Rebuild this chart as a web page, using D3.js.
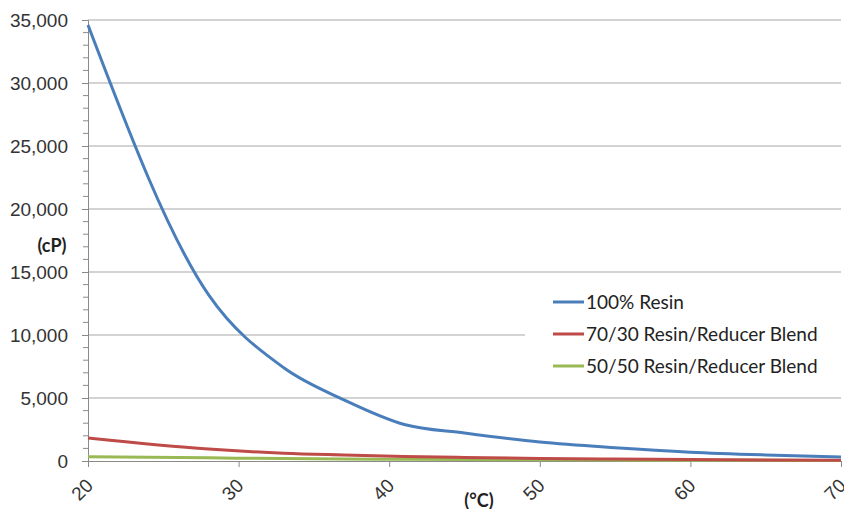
<!DOCTYPE html>
<html>
<head>
<meta charset="utf-8">
<script src="https://cdn.jsdelivr.net/npm/d3@7"></script>
<style>
  body { margin: 0; background: #fff; }
  svg { display: block; font-family: Lato, "Open Sans", sans-serif; }
</style>
</head>
<body>
<svg width="844" height="509"></svg>
<script>
// temperature (°C)
const temps = [20, 28, 33, 37, 41, 45, 50, 55, 60, 65, 70]
// viscosity (cP)
const resin100 = [34600, 13200, 7400, 4850, 2900, 2220, 1500, 1050, 700, 480, 320]
const blend7030 = [1830, 950, 620, 480, 360, 280, 200, 150, 110, 80, 60]
const blend5050 = [340, 250, 190, 160, 140, 120, 90, 70, 60, 50, 40]

const seriesNames = ["100% Resin", "70/30 Resin/Reducer Blend", "50/50 Resin/Reducer Blend"]
const seriesColors = ["#4a7ebb", "#be4b48", "#98b954"]
const xTicks = [20, 30, 40, 50, 60, 70]
const yTicks = [0, 5000, 10000, 15000, 20000, 25000, 30000, 35000]

let svg = d3.select("svg")

let area = { left: 88, right: 841, top: 20, bottom: 461 }

let scX = d3.scaleLinear().domain([20, 70]).range([area.left, area.right])
let scY = d3.scaleLinear().domain([0, 35000]).range([area.bottom, area.top])

// горизонтальная сетка
svg.append("g")
    .selectAll("line")
    .data(yTicks.filter(d => d > 0))
    .enter()
    .append("line")
    .attr("x1", area.left)
    .attr("x2", area.right)
    .attr("y1", d => scY(d))
    .attr("y2", d => scY(d))
    .style("stroke", "#c4c4c4")
    .style("stroke-width", 1.5)

// ось Y
let axisY = d3.axisLeft(scY)
    .tickValues(yTicks)
    .tickSize(6)
    .tickPadding(14)
    .tickFormat(d3.format(","))

let gY = svg.append("g")
    .attr("transform", `translate(${area.left}, 0)`)
    .call(axisY)
gY.select(".domain").style("stroke", "#8a8a8a")
gY.selectAll(".tick line").style("stroke", "#8a8a8a")
gY.selectAll("text")
    .style("font-size", "19px")
    .style("fill", "#333")
    .attr("dy", "0.36em")

// мелкие деления
svg.append("g")
    .selectAll("line")
    .data(d3.range(1000, 35000, 1000).filter(d => d % 5000 != 0))
    .enter()
    .append("line")
    .attr("x1", area.left - 5)
    .attr("x2", area.left)
    .attr("y1", d => scY(d))
    .attr("y2", d => scY(d))
    .style("stroke", "#8a8a8a")

// ось X
let axisX = d3.axisBottom(scX)
    .tickValues(xTicks)
    .tickSize(6)
    .tickFormat(d3.format("d"))

let gX = svg.append("g")
    .attr("transform", `translate(0, ${area.bottom})`)
    .call(axisX)
gX.select(".domain").style("stroke", "#8a8a8a")
gX.selectAll(".tick line").style("stroke", "#8a8a8a")
gX.selectAll("text")
    .style("font-size", "19px")
    .style("fill", "#333")
    .style("text-anchor", "end")
    .attr("x", 0)
    .attr("y", 0)
    .attr("dy", "0.35em")
    .attr("transform", "translate(1, 21) rotate(-45)")

// подписи осей
svg.append("text")
    .attr("x", 52)
    .attr("y", 252)
    .attr("text-anchor", "middle")
    .style("font-size", "18px")
    .style("font-weight", "bold")
    .style("fill", "#222")
    .text("(cP)")

svg.append("text")
    .attr("x", 479)
    .attr("y", 507)
    .attr("text-anchor", "middle")
    .style("font-size", "18px")
    .style("font-weight", "bold")
    .style("fill", "#222")
    .text("(°C)")

// линии
let allSeries = [resin100, blend7030, blend5050]

let lineGen = d3.line()
    .x((d, i) => scX(temps[i]))
    .y(d => scY(d))
    .curve(d3.curveMonotoneX)

allSeries.slice().reverse().forEach((s, j) => {
    let i = allSeries.length - 1 - j
    svg.append("path")
        .datum(s)
        .attr("d", lineGen)
        .style("fill", "none")
        .style("stroke", seriesColors[i])
        .style("stroke-width", 3)
})

// легенда
let legend = svg.append("g")
legend.append("rect")
    .attr("x", 525)
    .attr("y", 284)
    .attr("width", 319)
    .attr("height", 98)
    .style("fill", "#fff")

let items = legend.selectAll(".item")
    .data(seriesNames)
    .enter()
    .append("g")
    .attr("transform", (d, i) => `translate(553, ${302 + i * 32})`)

items.append("line")
    .attr("x1", 0)
    .attr("x2", 31)
    .style("stroke", (d, i) => seriesColors[i])
    .style("stroke-width", 3)

items.append("text")
    .attr("x", 33)
    .attr("dy", "0.36em")
    .style("font-size", "19px")
    .style("fill", "#222")
    .text(d => d)
</script>
</body>
</html>
